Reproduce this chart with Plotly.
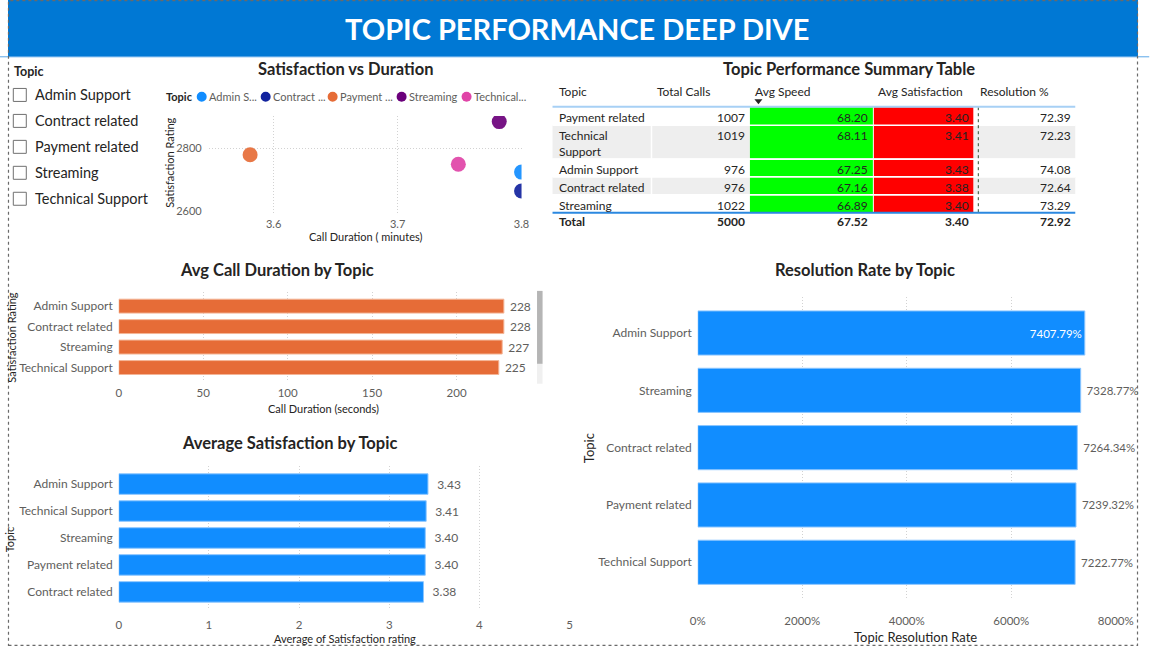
import plotly.graph_objects as go

# ------------------------------------------------------------------ data
slicer_items = ["Admin Support", "Contract related", "Payment related", "Streaming", "Technical Support"]

scatter_topics = ["Admin Support", "Contract related", "Payment related", "Streaming", "Technical Support"]
scatter_legend_labels = ["Admin S...", "Contract ...", "Payment ...", "Streaming", "Technical..."]
scatter_duration_min = [3.800, 3.800, 3.581, 3.782, 3.749]
scatter_satisfaction = [2725, 2665, 2780, 2885, 2750]
scatter_xticks = [3.6, 3.7, 3.8]
scatter_yticks = [2600, 2800]

dur_topics = ["Admin Support", "Contract related", "Streaming", "Technical Support"]
dur_seconds = [228, 228, 227, 225]
dur_xticks = [0, 50, 100, 150, 200]

sat_topics = ["Admin Support", "Technical Support", "Streaming", "Payment related", "Contract related"]
sat_values = [3.43, 3.41, 3.40, 3.40, 3.38]
sat_xticks = [0, 1, 2, 3, 4, 5]

res_topics = ["Admin Support", "Streaming", "Contract related", "Payment related", "Technical Support"]
res_values = [7407.79, 7328.77, 7264.34, 7239.32, 7222.77]
res_xticks = [0, 2000, 4000, 6000, 8000]

table_headers = ["Topic", "Total Calls", "Avg Speed", "Avg Satisfaction", "Resolution %"]
table_topics = ["Payment related", "Technical<br>Support", "Admin Support", "Contract related", "Streaming"]
table_calls = [1007, 1019, 976, 976, 1022]
table_speed = [68.20, 68.11, 67.25, 67.16, 66.89]
table_sat = [3.40, 3.41, 3.43, 3.38, 3.40]
table_res = [72.39, 72.23, 74.08, 72.64, 73.29]
table_total = ["Total", "5000", "67.52", "3.40", "72.92"]

# ------------------------------------------------------------------ style / page geometry
W, H = 1156, 651
# layout coordinates are given in picture pixels; the capture maps figure px -> picture px
# as  pic = A * fig + B  (measured with calibration marks), so invert it here
AX, BX = 0.978, 8.2
AY, BY = 0.994, 0.6
FONT = "Segoe UI, Lato, sans-serif"
TFONT = "DIN, Lato, sans-serif"
DARK = "#252423"
GREY = "#605E5C"
GRID = "#D2D2D2"
GDASH = "1px,2px"
BLUE = "#118DFF"
ORANGE = "#E66C37"
topic_colors = {"Admin Support": "#118DFF", "Contract related": "#12239E",
                "Payment related": "#E66C37", "Streaming": "#6B007B",
                "Technical Support": "#E044A7"}


def X(px):
    return ((px - BX) / AX) / W


def Y(py):
    return 1 - ((py - BY) / AY) / H


annotations = []
shapes = []


def ann(text, x, y, size=12, color=DARK, xanchor="center", yanchor="middle",
        bold=False, angle=0, family=FONT):
    align = "left" if xanchor == "left" else ("right" if xanchor == "right" else "center")
    annotations.append(dict(text=text, x=X(x), y=Y(y), xref="paper", yref="paper",
                            showarrow=False, xanchor=xanchor, yanchor=yanchor, align=align,
                            textangle=angle, borderpad=0,
                            font=dict(size=size, color=color, family=family,
                                      weight="bold" if bold else "normal")))


def rect(x0, y0, x1, y1, fill=None, line=None, lw=1, dash=None):
    shapes.append(dict(type="rect", xref="paper", yref="paper",
                       x0=X(x0), x1=X(x1), y0=Y(y1), y1=Y(y0),
                       fillcolor=fill if fill else "rgba(0,0,0,0)",
                       line=dict(color=line if line else "rgba(0,0,0,0)", width=lw if line else 0,
                                 dash=dash if dash else "solid"),
                       layer="below" if fill and not line else "above"))


def hline(x0, x1, y, color, lw=1, dash="solid"):
    shapes.append(dict(type="line", xref="paper", yref="paper", x0=X(x0), x1=X(x1),
                       y0=Y(y), y1=Y(y), line=dict(color=color, width=lw, dash=dash)))


def vline(x, y0, y1, color, lw=1, dash="solid"):
    shapes.append(dict(type="line", xref="paper", yref="paper", x0=X(x), x1=X(x),
                       y0=Y(y0), y1=Y(y1), line=dict(color=color, width=lw, dash=dash)))


fig = go.Figure()

# ------------------------------------------------------------------ scatter
fig.add_trace(go.Scatter(
    x=scatter_duration_min, y=scatter_satisfaction, mode="markers",
    marker=dict(size=15, color=[topic_colors[t] for t in scatter_topics], opacity=0.92,
                line=dict(width=0)),
    xaxis="x", yaxis="y", showlegend=False, cliponaxis=True, hoverinfo="skip"))

# ------------------------------------------------------------------ avg call duration
fig.add_trace(go.Bar(
    x=dur_seconds, y=dur_topics, orientation="h", xaxis="x2", yaxis="y2",
    width=0.68, marker=dict(color=ORANGE, line=dict(color="#F4B596", width=1)),
    texttemplate="\u00a0%{x:.0f}", textposition="outside", cliponaxis=False,
    constraintext="none", textfont=dict(size=12, color=GREY, family=FONT),
    showlegend=False, hoverinfo="skip"))

# ------------------------------------------------------------------ avg satisfaction
fig.add_trace(go.Bar(
    x=sat_values, y=sat_topics, orientation="h", xaxis="x3", yaxis="y3",
    width=0.76, marker=dict(color=BLUE, line=dict(color="#8CC6FF", width=1)),
    texttemplate="\u00a0\u00a0%{x:.2f}", textposition="outside", cliponaxis=False,
    constraintext="none", textfont=dict(size=12, color=GREY, family=FONT),
    showlegend=False, hoverinfo="skip"))

# ------------------------------------------------------------------ resolution rate
res_pos = ["inside" if v == max(res_values) else "outside" for v in res_values]
fig.add_trace(go.Bar(
    x=res_values, y=res_topics, orientation="h", xaxis="x4", yaxis="y4",
    width=0.77, marker=dict(color=BLUE, line=dict(color="#8CC6FF", width=1)),
    texttemplate=["%{x:.2f}%" if p == "inside" else "\u00a0%{x:.2f}%" for p in res_pos],
    textposition=res_pos, insidetextanchor="end", cliponaxis=False,
    constraintext="none",
    insidetextfont=dict(size=11.5, color="white", family=FONT),
    outsidetextfont=dict(size=11.5, color=GREY, family=FONT),
    showlegend=False, hoverinfo="skip"))

tickf = dict(size=11.5, color=GREY, family=FONT)
catf = dict(size=12, color=GREY, family=FONT)
common = dict(showline=False, zeroline=False, ticks="", fixedrange=True)

fig.update_layout(
    xaxis=dict(domain=[X(209), X(522)], range=[3.5476, 3.8], tickvals=scatter_xticks,
               showgrid=True, gridcolor=GRID, griddash=GDASH, tickfont=dict(size=11, color=GREY, family=FONT),
               anchor="y", ticklabelstandoff=3, **common),
    yaxis=dict(domain=[Y(213.5), Y(116.7)], range=[2597, 2903], tickvals=scatter_yticks,
               showgrid=True, gridcolor=GRID, griddash=GDASH, tickfont=dict(size=11, color=GREY, family=FONT),
               anchor="x", ticklabelstandoff=6, **common),
    xaxis2=dict(domain=[X(119), X(119 + 231 * 1.69)], range=[0, 231], tickvals=dur_xticks,
                showgrid=True, gridcolor=GRID, griddash=GDASH, tickfont=tickf,
                anchor="y2", ticklabelstandoff=3, **common),
    yaxis2=dict(domain=[Y(383), Y(293)], type="category", categoryorder="array",
                categoryarray=dur_topics, range=[3.695, -0.695], showgrid=False,
                tickfont=catf, anchor="x2", ticklabelstandoff=5, **common),
    xaxis3=dict(domain=[X(119), X(570)], range=[0, 5], tickvals=sat_xticks,
                showgrid=True, gridcolor=GRID, griddash=GDASH, tickfont=tickf,
                anchor="y3", ticklabelstandoff=6, **common),
    yaxis3=dict(domain=[Y(612), Y(467)], type="category", categoryorder="array",
                categoryarray=sat_topics, range=[4.685, -0.685], showgrid=False,
                tickfont=catf, anchor="x3", ticklabelstandoff=5, **common),
    xaxis4=dict(domain=[X(698.3), X(1116.5)], range=[0, 8000], tickvals=res_xticks,
                ticktext=[f"{v}%" for v in res_xticks],
                showgrid=True, gridcolor=GRID, griddash=GDASH, tickfont=tickf,
                anchor="y4", ticklabelstandoff=14, **common),
    yaxis4=dict(domain=[Y(600), Y(298)], type="category", categoryorder="array",
                categoryarray=res_topics, range=[4.63, -0.63], showgrid=False,
                tickfont=catf, anchor="x4", ticklabelstandoff=5, **common),
)

# ------------------------------------------------------------------ header bar & canvas
shapes.append(dict(type="rect", xref="paper", yref="paper", x0=0, x1=min(X(1150), 1.0),
                   y0=Y(57.5), y1=1, fillcolor="#0078D4", line=dict(width=0), layer="below"))
hline(0, 1150, 57.5, "#5AA7E8", lw=1)
ann("TOPIC PERFORMANCE DEEP DIVE", 577, 29, size=29, color="white", bold=True, family="Lato, sans-serif")
shapes.append(dict(type="rect", xref="paper", yref="paper", x0=0.5 / W, x1=1 - 0.5 / W,
                   y0=max(Y(649.5), 0.6 / H), y1=1 - 0.6 / H,
                   line=dict(color="#6A6A6A", width=1.2, dash="dot"), fillcolor="rgba(0,0,0,0)", layer="above"))

# ------------------------------------------------------------------ slicer
ann("Topic", 13, 72, size=12.5, bold=True, xanchor="left")
for i, item in enumerate(slicer_items):
    yc = 95.7 + 26 * i
    shapes.append(dict(type="rect", xref="paper", yref="paper", x0=X(13.5), x1=X(26.5),
                       y0=Y(yc + 6.5), y1=Y(yc - 6.5), fillcolor="white",
                       line=dict(color="#707070", width=1)))
    ann(item, 34, yc, size=14.5, color=DARK, xanchor="left")

# ------------------------------------------------------------------ chart titles
ann("Satisfaction vs Duration", 346, 70, size=16.5, bold=True, family=TFONT)
ann("Topic Performance Summary Table", 850, 69.5, size=16.5, bold=True, family=TFONT)
ann("Avg Call Duration by Topic", 277, 271, size=16.5, bold=True, family=TFONT)
ann("Average Satisfaction by Topic", 290, 444, size=16.5, bold=True, family=TFONT)
ann("Resolution Rate by Topic", 865.5, 271, size=16.5, bold=True, family=TFONT)

# ------------------------------------------------------------------ axis titles
ann("Call Duration ( minutes)", 366, 238, size=11)
ann("Satisfaction Rating", 169, 164, size=11, angle=-90)
ann("Call Duration (seconds)", 324, 410, size=11)
ann("Satisfaction Rating", 11.5, 338.5, size=11, angle=-90)
ann("Average of Satisfaction rating", 345, 640.5, size=11)
ann("Topic", 10, 541, size=11, angle=-90)
ann("Topic Resolution Rate", 916, 638.5, size=13)
ann("Topic", 589, 450, size=13, angle=-90)

# ------------------------------------------------------------------ scatter legend
ann("Topic", 165, 97.5, size=11, bold=True, xanchor="left")
legend_x = [197, 261, 328, 397, 462]
for lx, lab, t in zip(legend_x, scatter_legend_labels, scatter_topics):
    shapes.append(dict(type="circle", xref="paper", yref="paper", x0=X(lx), x1=X(lx + 10),
                       y0=Y(102.5), y1=Y(92.5), fillcolor=topic_colors[t], line=dict(width=0)))
    ann(lab, lx + 11.5, 97.5, size=11, color=GREY, xanchor="left")

# ------------------------------------------------------------------ table
row_tops = [108, 126, 160, 178, 196]
row_bots = [126, 159, 177, 195, 213]
for i, (t0, t1) in enumerate(zip(row_tops, row_bots)):
    band = "#EEEEEE" if i % 2 == 1 else "white"
    rect(553, t0, 750.5, t1, fill=band)
    rect(974, t0, 1076, t1, fill=band)
    rect(750.5, t0, 873.5, t1, fill="#00FF00")
    rect(874.5, t0, 974, t1, fill="#FF0000")
for t0 in row_tops[1:]:
    hline(553, 1076, t0, "white", lw=1.5)
vline(652, 108, 213, "white", lw=1.5)
vline(979, 108, 213, "#2F4F2F", lw=1, dash="dot")
hline(553, 1076, 107.5, "#A7D0F5", lw=2)
hline(553, 1076, 213.7, "#2B88E0", lw=2)
shapes.append(dict(type="path", xref="paper", yref="paper",
                   path=f"M {X(755)},{Y(100)} L {X(763)},{Y(100)} L {X(759)},{Y(105)} Z",
                   fillcolor=DARK, line=dict(width=0)))

hdr_left = [558, 656.5, 755, 877.5, 979.5]
for h, hx in zip(table_headers, hdr_left):
    ann(h, hx, 92.5, size=12, color=DARK, xanchor="left")

right_edges = [746.7, 869.5, 970.5, 1072.5]
for i, t0 in enumerate(row_tops):
    ytxt = t0 + 2
    ann(table_topics[i], 558, ytxt, size=12, color=DARK, xanchor="left", yanchor="top")
    vals = [str(table_calls[i]), f"{table_speed[i]:.2f}", f"{table_sat[i]:.2f}", f"{table_res[i]:.2f}"]
    for v, rx in zip(vals, right_edges):
        ann(v, rx, ytxt, size=12, color=DARK, xanchor="right", yanchor="top")

ann(table_total[0], 558, 222.5, size=12, color=DARK, xanchor="left", bold=True)
for v, rx in zip(table_total[1:], right_edges):
    ann(v, rx, 222.5, size=12, color=DARK, xanchor="right", bold=True)

# scrollbar of call-duration visual
rect(537.5, 292, 543, 385, fill="#F0F0F0")
rect(537.5, 292, 543, 365, fill="#B5B5B5")

fig.update_layout(
    width=W, height=H, autosize=False,
    margin=dict(l=0, r=0, t=0, b=0),
    paper_bgcolor="white", plot_bgcolor="rgba(0,0,0,0)",
    font=dict(family=FONT, color=DARK),
    annotations=annotations, shapes=shapes,
    showlegend=False,
)

fig.write_html("out.html", config={"displayModeBar": False})
